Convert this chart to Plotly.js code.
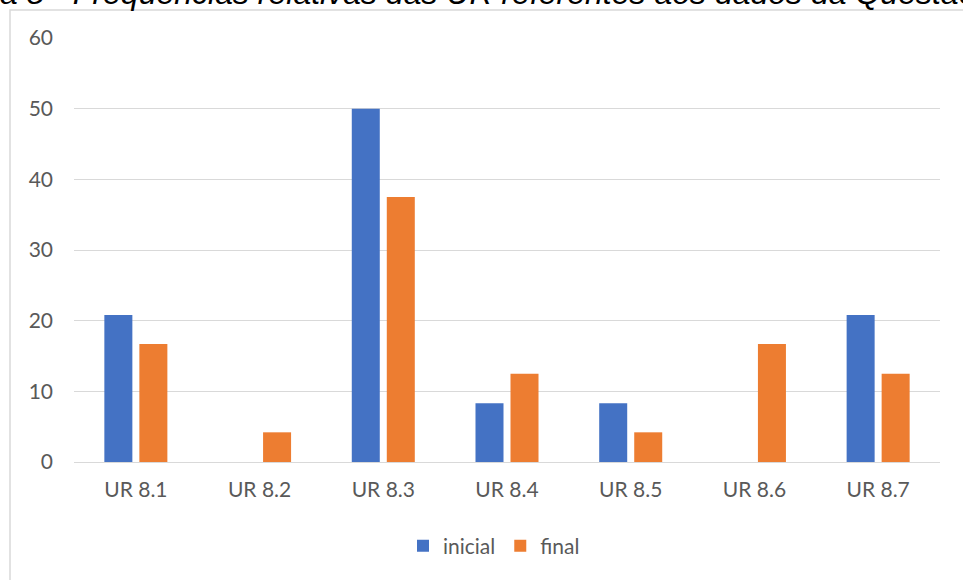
<!DOCTYPE html>
<html>
<head>
<meta charset="utf-8">
<script src="https://cdn.plot.ly/plotly-3.0.1.min.js"></script>
<style>
  html, body { margin: 0; padding: 0; background: #fff; }
  #chart { width: 963px; height: 580px; }
</style>
</head>
<body>
<div id="chart"></div>
<script>
// Relative frequencies (%) of the registration units, before and after
const categories = ['UR 8.1', 'UR 8.2', 'UR 8.3', 'UR 8.4', 'UR 8.5', 'UR 8.6', 'UR 8.7'];
const inicial = [20.8, 0, 50, 8.3, 8.3, 0, 20.8];
const final = [16.7, 4.2, 37.5, 12.5, 4.2, 16.7, 12.5];
const seriesNames = ['inicial', 'final'];
const yTicks = [0, 10, 20, 30, 40, 50, 60];
const captionText = 'Figura 8 - Frequências relativas das UR referentes aos dados da Questão 8';

const W = 963, H = 580;
const M = { l: 74, r: 23, t: 38, b: 118 };
const plotW = W - M.l - M.r, plotH = H - M.t - M.b;
const px = p => (p - M.l) / plotW;          // page x pixel -> paper x
const py = p => (H - M.b - p) / plotH;      // page y pixel -> paper y

const tickFont = { family: 'Lato, "Open Sans", sans-serif', size: 21, color: '#595959' };

const traces = [
  { type: 'bar', name: seriesNames[0], x: categories, y: inicial,
    marker: { color: '#4472C4' }, hoverinfo: 'x+y+name' },
  { type: 'bar', name: seriesNames[1], x: categories, y: final,
    marker: { color: '#ED7D31' }, hoverinfo: 'x+y+name' }
];

const layout = {
  width: W, height: H,
  margin: M,
  paper_bgcolor: '#ffffff',
  plot_bgcolor: '#ffffff',
  barmode: 'group',
  bargap: 0.434,
  bargroupgap: 0.2,
  showlegend: true,
  legend: {
    orientation: 'h', x: px(494), xanchor: 'center', y: py(546), yanchor: 'middle',
    font: tickFont, itemwidth: 30, traceorder: 'normal'
  },
  xaxis: {
    type: 'category', showgrid: false, zeroline: false, showline: false,
    ticks: '', tickfont: tickFont, ticklabelstandoff: 13, fixedrange: true
  },
  yaxis: {
    range: [0, 60], tickvals: yTicks, ticks: '', showline: false,
    gridcolor: '#d9d9d9', gridwidth: 1, zeroline: true, zerolinecolor: '#d9d9d9', zerolinewidth: 1,
    tickfont: tickFont, ticklabelstandoff: 20, fixedrange: true
  },
  shapes: [
    { type: 'rect', xref: 'paper', yref: 'paper',
      x0: px(10), x1: px(1000), y0: py(620), y1: py(10),
      line: { color: '#d9d9d9', width: 1.5 }, fillcolor: 'rgba(0,0,0,0)', layer: 'below' }
  ],
  annotations: [
    { text: captionText, xref: 'paper', yref: 'paper',
      x: px(-75), xanchor: 'left', y: py(-7), yanchor: 'middle', showarrow: false,
      font: { family: '"Liberation Sans", Arial, sans-serif', size: 32, color: '#000000', style: 'italic' } }
  ]
};

Plotly.newPlot('chart', traces, layout, { displayModeBar: false, staticPlot: true });
</script>
</body>
</html>
